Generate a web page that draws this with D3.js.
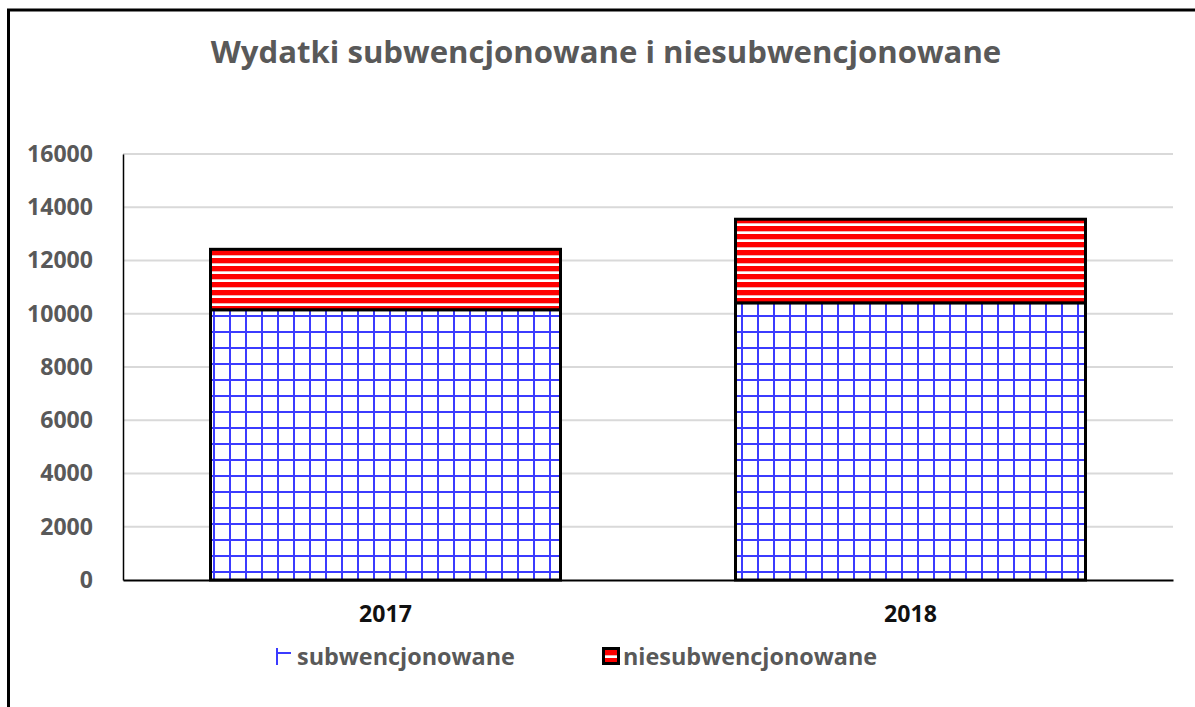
<!DOCTYPE html>
<html><head><meta charset="utf-8">
<script src="https://cdn.jsdelivr.net/npm/d3@7"></script>
<style>body{margin:0;background:#fff}svg{display:block}text{font-family:"Open Sans",Lato,sans-serif;font-weight:bold;fill:#595959}</style>
</head><body>
<script>
const categories = ["2017", "2018"];
const subwencjonowane = [10150, 10410];
const niesubwencjonowane = [2270, 3140];
const yTicks = [0, 2000, 4000, 6000, 8000, 10000, 12000, 14000, 16000];
const seriesNames = ["subwencjonowane", "niesubwencjonowane"];
const title = "Wydatki subwencjonowane i niesubwencjonowane";

const W = 1195, H = 707;
const svg = d3.select("body").append("svg").attr("width", W).attr("height", H);
const defs = svg.append("defs");

function fit(sel, target, base) {
  sel.style("font-size", base + "px");
  const w = sel.node().getComputedTextLength();
  sel.style("font-size", (base * target / w).toFixed(2) + "px");
}

// blue grid pattern
const pg = defs.append("pattern").attr("id", "grid").attr("patternUnits", "userSpaceOnUse")
  .attr("width", 16).attr("height", 16).attr("x", 5).attr("y", 11);
pg.append("rect").attr("width", 16).attr("height", 16).attr("fill", "#fff");
pg.append("rect").attr("x", 0).attr("y", 0).attr("width", 2).attr("height", 16).attr("fill", "#3b3bff");
pg.append("rect").attr("x", 0).attr("y", 0).attr("width", 16).attr("height", 2).attr("fill", "#3b3bff");

// red stripes pattern
const ps = defs.append("pattern").attr("id", "stripes").attr("patternUnits", "userSpaceOnUse")
  .attr("width", 8).attr("height", 8).attr("x", 0).attr("y", 2);
ps.append("rect").attr("width", 8).attr("height", 8).attr("fill", "#ff0000");
ps.append("rect").attr("y", 5).attr("width", 8).attr("height", 1).attr("fill", "#f4b0b0");
ps.append("rect").attr("y", 6).attr("width", 8).attr("height", 2).attr("fill", "#ffffff");

// outer border (only top/left visible)
svg.append("rect").attr("x", 8.5).attr("y", 10).attr("width", 1300).attr("height", 800)
  .attr("fill", "none").attr("stroke", "#000").attr("stroke-width", 3);

const t = svg.append("text").attr("x", 606).attr("y", 63).attr("text-anchor", "middle").text(title);
fit(t, 791, 29);

const x = d3.scaleBand().domain(categories).range([123, 1173]).paddingInner(1/3).paddingOuter(1/6);
const y = d3.scaleLinear().domain([0, 16000]).range([580, 154]);

// gridlines
svg.append("g").selectAll("line").data(yTicks.filter(d => d > 0)).join("line")
  .attr("x1", 123).attr("x2", 1173).attr("y1", d => y(d)).attr("y2", d => y(d))
  .attr("stroke", "#d9d9d9").attr("stroke-width", 2);

// y axis
const ya = svg.append("g").attr("transform", "translate(123,0)")
  .call(d3.axisLeft(y).tickValues(yTicks).tickSize(0).tickPadding(30).tickFormat(d3.format("d")));
ya.select(".domain").attr("stroke", "#000").attr("stroke-width", 1.5);
ya.selectAll("text").style("font-family", "Open Sans").style("fill", "#595959");
const t16 = ya.selectAll("text").filter(d => d === 16000);
t16.style("font-size", "22px");
const yfs = 22 * 66 / t16.node().getComputedTextLength();
ya.selectAll("text").style("font-size", yfs + "px");

// bars
const stackData = categories.map((c, i) => ({cat: c, subwencjonowane: subwencjonowane[i], niesubwencjonowane: niesubwencjonowane[i]}));
const stack = d3.stack().keys(seriesNames)(stackData);
const fills = {subwencjonowane: "url(#grid)", niesubwencjonowane: "url(#stripes)"};
svg.append("g").selectAll("g").data(stack).join("g")
  .selectAll("rect").data(s => s.map(d => ({key: s.key, d}))).join("rect")
  .attr("x", o => x(o.d.data.cat)).attr("width", x.bandwidth())
  .attr("y", o => y(o.d[1])).attr("height", o => y(o.d[0]) - y(o.d[1]))
  .attr("fill", o => fills[o.key]).attr("stroke", "#000").attr("stroke-width", 3);

// x axis
const xa = svg.append("g").attr("transform", "translate(0,580)")
  .call(d3.axisBottom(x).tickSize(0).tickPadding(26));
xa.select(".domain").attr("stroke", "#000").attr("stroke-width", 2);
xa.selectAll("text").style("font-family", "Open Sans").style("font-size", (yfs) + "px").style("fill", "#111");

// legend
const lg = svg.append("g");
lg.append("line").attr("x1", 277).attr("x2", 277).attr("y1", 648).attr("y2", 665).attr("stroke", "#3b3bff").attr("stroke-width", 2);
lg.append("line").attr("x1", 277).attr("x2", 291).attr("y1", 653).attr("y2", 653).attr("stroke", "#3b3bff").attr("stroke-width", 2);
const l1 = lg.append("text").attr("x", 297).attr("y", 665).text(seriesNames[0]);
fit(l1, 218, 22);
lg.append("rect").attr("x", 603.5).attr("y", 648.5).attr("width", 15).attr("height", 15)
  .attr("fill", "url(#stripes)").attr("stroke", "#000").attr("stroke-width", 3);
const l2 = lg.append("text").attr("x", 623).attr("y", 665).text(seriesNames[1]);
l2.style("font-size", l1.style("font-size"));
</script>
</body></html>
